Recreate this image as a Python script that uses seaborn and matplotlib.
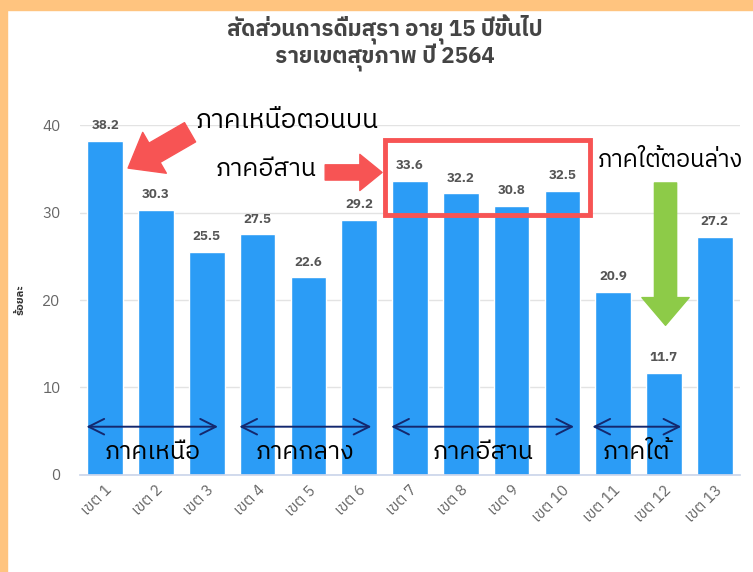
import numpy as np
import pandas as pd
import seaborn as sns
import matplotlib
matplotlib.use("Agg")
import matplotlib.pyplot as plt
from matplotlib import font_manager
from matplotlib.ft2font import FT2Font
from matplotlib.patches import Rectangle

# data
districts = ["เขต 1", "เขต 2", "เขต 3", "เขต 4", "เขต 5", "เขต 6", "เขต 7",
             "เขต 8", "เขต 9", "เขต 10", "เขต 11", "เขต 12", "เขต 13"]
percent = [38.2, 30.3, 25.5, 27.5, 22.6, 29.2, 33.6, 32.2, 30.8, 32.5, 20.9, 11.7, 27.2]
title_lines = ["สัดส่วนการดื่มสุรา อายุ 15 ปีขึ้นไป", "รายเขตสุขภาพ ปี 2564"]
y_label = "ร้อยละ"
regions = ["ภาคเหนือ", "ภาคกลาง", "ภาคอีสาน", "ภาคใต้"]
region_span = [(-0.37, 2.22), (2.64, 5.24), (5.63, 9.23), (9.59, 11.34)]

df = pd.DataFrame({"district": districts, "percent": percent})

# find a font that has Thai glyphs
thai_font = None
for f in font_manager.fontManager.ttflist:
    try:
        if 0x0E01 in FT2Font(f.fname).get_charmap():
            thai_font = f.name
            if "Sans" in f.name or "Tahoma" in f.name:
                break
    except Exception:
        pass

sns.set_theme(style="white")
fams = ([thai_font] if thai_font else []) + ["DejaVu Sans"]
plt.rcParams["font.family"] = fams

fig = plt.figure(figsize=(7.53, 5.72), dpi=100)
ax = fig.add_axes([0.106, 0.170, 0.877, 0.611])

sns.barplot(data=df, x="district", y="percent", color="#2b9cf6", saturation=1,
            width=0.7, ax=ax)

ax.set_ylim(0, 40)
ax.set_xlim(-0.5, 12.5)
ax.set_yticks([0, 10, 20, 30, 40])
ax.yaxis.grid(True, color="#e3e3e3", linewidth=1)
ax.set_axisbelow(True)
for s in ["top", "right", "left"]:
    ax.spines[s].set_visible(False)
ax.spines["bottom"].set_color("#ccd6eb")
ax.tick_params(axis="y", length=0, labelsize=11, labelcolor="#666666", pad=14)
ax.tick_params(axis="x", which="major", length=0, labelsize=11, labelcolor="#666666", pad=6)
ax.set_xticks(np.arange(-0.5, 13, 1), minor=True)
ax.tick_params(axis="x", which="minor", length=9, color="#ccd6eb", direction="out")
plt.setp(ax.get_xticklabels(), rotation=45, ha="right", rotation_mode="anchor")
ax.set_xlabel("")
ax.set_ylabel(y_label, fontsize=8, fontweight="bold", color="#333333", labelpad=12)

# value labels
for i, v in enumerate(percent):
    ax.text(i, v + 1.0, f"{v:.1f}", ha="center", va="bottom", fontsize=9.5,
            fontweight="bold", color="#555555", clip_on=False)

# title
fig.text(0.511, 0.948, title_lines[0], ha="center", va="center", fontsize=16,
         fontweight="bold", color="#444444")
fig.text(0.511, 0.898, title_lines[1], ha="center", va="center", fontsize=16,
         fontweight="bold", color="#444444")

# region arrows and names
for (x0, x1), name in zip(region_span, regions):
    ax.annotate("", xy=(x0, 5.5), xytext=(x1, 5.5),
                arrowprops=dict(arrowstyle="<->", color="#14286e", lw=1.4,
                                mutation_scale=28, shrinkA=0, shrinkB=0))
    ax.text((x0 + x1) / 2, 2.6, name, ha="center", va="center", fontsize=18,
            color="black")

# callouts
ax.text(1.77, 40.6, "ภาคเหนือตอนบน", ha="left", va="center", fontsize=19,
        color="black", clip_on=False)
ax.annotate("", xy=(0.45, 35.1), xytext=(1.67, 39.2),
            arrowprops=dict(arrowstyle="simple,head_width=34,head_length=22,tail_width=16",
                            color="#f75454", mutation_scale=1, shrinkA=0, shrinkB=0))
ax.text(2.17, 34.9, "ภาคอีสาน", ha="left", va="center", fontsize=18, color="black")
ax.annotate("", xy=(5.45, 34.6), xytext=(4.33, 34.6),
            arrowprops=dict(arrowstyle="simple,head_width=26,head_length=16,tail_width=11",
                            color="#f75454", mutation_scale=1, shrinkA=0, shrinkB=0))
ax.text(9.7, 36.0, "ภาคใต้ตอนล่าง", ha="left", va="center", fontsize=17, color="black",
        clip_on=False)
ax.annotate("", xy=(11.03, 17.1), xytext=(11.03, 33.4),
            arrowprops=dict(arrowstyle="simple,head_width=34,head_length=20,tail_width=16",
                            color="#8dcb48", mutation_scale=1, shrinkA=0, shrinkB=0))
ax.add_patch(Rectangle((5.51, 29.7), 4.04, 8.6, fill=False, edgecolor="#f75454",
                       linewidth=3.5, clip_on=False, zorder=5))

# orange frame
fig.patches.append(Rectangle((0, 0.982), 1, 0.018, transform=fig.transFigure,
                             color="#ffc47f", zorder=0))
fig.patches.append(Rectangle((0, 0), 0.009, 1, transform=fig.transFigure,
                             color="#ffc47f", zorder=0))

fig.savefig("out.png", dpi=100)
